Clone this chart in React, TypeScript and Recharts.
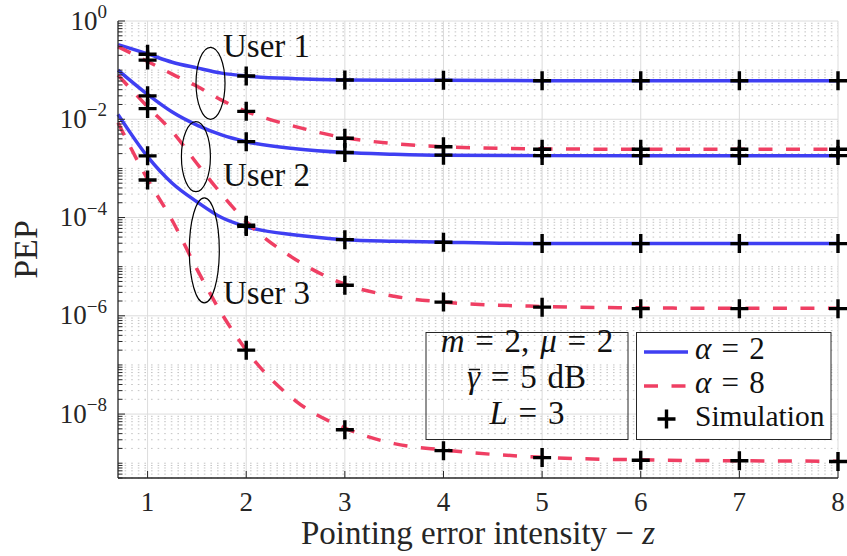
import React from 'react'
import {
  ComposedChart,
  Line,
  Scatter,
  XAxis,
  YAxis,
  CartesianGrid,
  ReferenceDot,
  Label,
} from 'recharts'

// pointing error intensity where the analytical curves are sampled
const zValues = [0.7, 1, 1.25, 1.5, 1.75, 2, 2.5, 3, 3.5, 4, 5, 6, 7, 8]

// analytical PEP, alpha = 2
const user1Alpha2 = [3.3e-1, 2.14e-1, 1.45e-1, 1.11e-1, 8.7e-2, 7.6e-2, 6.7e-2, 6.3e-2, 6.2e-2, 6.2e-2, 6.1e-2, 6.1e-2, 6.1e-2, 6.1e-2]
const user2Alpha2 = [1.0e-1, 3.2e-2, 1.4e-2, 7.6e-3, 4.8e-3, 3.5e-3, 2.5e-3, 2.1e-3, 1.95e-3, 1.86e-3, 1.82e-3, 1.82e-3, 1.82e-3, 1.82e-3]
const user3Alpha2 = [1.26e-2, 1.74e-3, 5.0e-4, 2.1e-4, 1.0e-4, 6.5e-5, 4.4e-5, 3.55e-5, 3.3e-5, 3.15e-5, 2.95e-5, 2.95e-5, 2.95e-5, 2.95e-5]

// analytical PEP, alpha = 8
const user1Alpha8 = [3.0e-1, 1.5e-1, 8.3e-2, 4.7e-2, 2.45e-2, 1.45e-2, 7.1e-3, 4.2e-3, 3.2e-3, 2.75e-3, 2.5e-3, 2.45e-3, 2.45e-3, 2.45e-3]
const user2Alpha8 = [7.9e-2, 1.8e-2, 5.6e-3, 1.26e-3, 3.0e-4, 8.3e-5, 1.4e-5, 4.4e-6, 2.5e-6, 1.9e-6, 1.55e-6, 1.45e-6, 1.42e-6, 1.42e-6]
const user3Alpha8 = [8.5e-3, 6.0e-4, 8.7e-5, 8.9e-6, 1.12e-6, 2.0e-7, 1.86e-8, 5.2e-9, 2.5e-9, 1.86e-9, 1.32e-9, 1.17e-9, 1.12e-9, 1.1e-9]

// Monte Carlo points
const simZ = [1, 2, 3, 4, 5, 6, 7, 8]
const simUser1Alpha2 = [2.1e-1, 7.6e-2, 6.3e-2, 6.2e-2, 6.1e-2, 6.1e-2, 6.1e-2, 6.1e-2]
const simUser1Alpha8 = [1.6e-1, 1.45e-2, 4.1e-3, 2.75e-3, 2.45e-3, 2.45e-3, 2.45e-3, 2.45e-3]
const simUser2Alpha2 = [3.0e-2, 3.5e-3, 2.1e-3, 1.86e-3, 1.82e-3, 1.82e-3, 1.82e-3, 1.82e-3]
const simUser2Alpha8 = [1.65e-2, 7.0e-5, 4.2e-6, 1.9e-6, 1.5e-6, 1.4e-6, 1.4e-6, 1.4e-6]
const simUser3Alpha2 = [1.8e-3, 6.6e-5, 3.55e-5, 3.15e-5, 2.95e-5, 2.95e-5, 2.95e-5, 2.95e-5]
const simUser3Alpha8 = [5.8e-4, 2.0e-7, 4.8e-9, 1.8e-9, 1.3e-9, 1.15e-9, 1.12e-9, 1.08e-9]

const xTicks = [1, 2, 3, 4, 5, 6, 7, 8]
const yMajorTicks = [1, 1e-2, 1e-4, 1e-6, 1e-8]

// user group annotations: ellipse centre (data coords) and label anchor
const userEllipses = [
  { z: 1.638, pep: 5.4e-2, rx: 14.5, ry: 36 },
  { z: 1.49, pep: 1.73e-3, rx: 14.5, ry: 35 },
  { z: 1.575, pep: 2.15e-5, rx: 15, ry: 52.5 },
]
const userLabels = [
  { z: 1.765, pep: 1.81e-1, text: 'User 1' },
  { z: 1.765, pep: 4.35e-4, text: 'User 2' },
  { z: 1.765, pep: 1.76e-6, text: 'User 3' },
]

const BLUE = '#3f3ff2'
const RED = '#ef3f63'
const AXIS = '#262626'
const FONT = "'Liberation Serif', 'DejaVu Serif', serif"
const DASH = '14 13.5'

// all the log-decade minor positions between 5e-10 and 1
const yMinorTicks: number[] = []
for (let e = -10; e <= 0; e++) {
  for (let m = 1; m <= 9; m++) {
    const v = m * Math.pow(10, e)
    if (v < 4.99e-10 || v > 1.0001) continue
    if (m === 1 && yMajorTicks.some((t) => Math.abs(t - v) / t < 1e-6)) continue
    yMinorTicks.push(v)
  }
}
const yAllTicks = [...yMajorTicks, ...yMinorTicks].sort((a, b) => a - b)
const isMajor = (v: number) => yMajorTicks.some((t) => Math.abs(t - v) / t < 1e-6)

const curve = (vals: number[]) => zValues.map((z, i) => ({ z, pep: vals[i] }))
const simPoints = [simUser1Alpha2, simUser1Alpha8, simUser2Alpha2, simUser2Alpha8, simUser3Alpha2, simUser3Alpha8]
  .flatMap((vals) => simZ.map((z, i) => ({ z, pep: vals[i] })))

const txt = (size: number) => ({ fontFamily: FONT, fontSize: size })

const PlusMarker = (props: any) => {
  const { cx, cy } = props
  if (cx == null || cy == null) return null
  return (
    <path
      d={`M${cx - 9},${cy}H${cx + 9}M${cx},${cy - 9.5}V${cy + 9.5}`}
      stroke="#000"
      strokeWidth={3.4}
      fill="none"
    />
  )
}

const BottomTick = ({ x, y, payload }: any) => (
  <g>
    <line x1={x} x2={x} y1={y} y2={y - 7} stroke={AXIS} strokeWidth={1} />
    <text x={x} y={y + 33} textAnchor="middle" style={txt(27)} fill="#262626">
      {payload.value}
    </text>
  </g>
)

const TopTick = ({ x, y }: any) => (
  <line x1={x} x2={x} y1={y} y2={y + 7} stroke={AXIS} strokeWidth={1} />
)

const LeftTick = ({ x, y, payload }: any) => {
  const v = payload.value
  const major = isMajor(v)
  const exp = Math.round(Math.log10(v))
  return (
    <g>
      <line x1={x} x2={x + (major ? 7 : 4.5)} y1={y} y2={y} stroke={AXIS} strokeWidth={1} />
      {major && (
        <text x={x - 11} y={y + 8.5} textAnchor="end" style={txt(27)} fill="#262626">
          <tspan>10</tspan>
          <tspan dy={-11.5} style={txt(19)}>{exp === 0 ? '0' : `\u2212${-exp}`}</tspan>
        </text>
      )}
    </g>
  )
}

const RightTick = ({ x, y, payload }: any) => {
  const major = isMajor(payload.value)
  return <line x1={x} x2={x - (major ? 7 : 4.5)} y1={y} y2={y} stroke={AXIS} strokeWidth={1} />
}

const XTitle = ({ viewBox }: any) => (
  <text
    x={viewBox.x + viewBox.width / 2}
    y={viewBox.y + 66}
    textAnchor="middle"
    style={txt(33)}
    fill="#262626"
  >
    Pointing error intensity {'\u2212'} <tspan fontStyle="italic">z</tspan>
  </text>
)

const YTitle = ({ viewBox }: any) => {
  const cx = viewBox.x + 37
  const cy = viewBox.y + viewBox.height / 2
  return (
    <text
      x={cx}
      y={cy}
      transform={`rotate(-90 ${cx} ${cy})`}
      textAnchor="middle"
      style={txt(34)}
      fill="#262626"
    >
      PEP
    </text>
  )
}

export default function App() {
  return (
    <div style={{ position: 'absolute', left: 0, top: 0, width: 847, height: 556, background: '#fff' }}>
      <ComposedChart width={847} height={556} margin={{ top: 21, right: 9, bottom: 0, left: 0 }}>
        <CartesianGrid
          vertical={false}
          horizontalValues={yMinorTicks}
          stroke="#c4c4c4"
          strokeDasharray="1.6 5"
        />
        <CartesianGrid horizontalValues={yMajorTicks} verticalValues={xTicks} stroke="#dcdcdc" />

        <XAxis
          dataKey="z"
          type="number"
          domain={[0.7, 8]}
          ticks={xTicks}
          height={78}
          tickSize={0}
          tickMargin={0}
          tickLine={false}
          interval={0}
          stroke={AXIS}
          strokeWidth={1.3}
          tick={<BottomTick />}
        >
          <Label content={<XTitle />} />
        </XAxis>
        <XAxis
          xAxisId="top"
          orientation="top"
          dataKey="z"
          type="number"
          domain={[0.7, 8]}
          ticks={xTicks}
          height={0}
          tickSize={0}
          tickMargin={0}
          tickLine={false}
          interval={0}
          stroke={AXIS}
          strokeWidth={1.3}
          tick={<TopTick />}
        />
        <YAxis
          type="number"
          scale="log"
          domain={[5e-10, 1]}
          ticks={yAllTicks}
          width={118}
          tickSize={0}
          tickMargin={0}
          tickLine={false}
          interval={0}
          stroke={AXIS}
          strokeWidth={1.3}
          tick={<LeftTick />}
        >
          <Label content={<YTitle />} />
        </YAxis>
        <YAxis
          yAxisId="right"
          orientation="right"
          type="number"
          scale="log"
          domain={[5e-10, 1]}
          ticks={yAllTicks}
          width={0}
          tickSize={0}
          tickMargin={0}
          tickLine={false}
          interval={0}
          stroke={AXIS}
          strokeWidth={1.3}
          tick={<RightTick />}
        />

        <Line data={curve(user1Alpha2)} dataKey="pep" type="monotone" stroke={BLUE} strokeWidth={3.5} dot={false} isAnimationActive={false} />
        <Line data={curve(user2Alpha2)} dataKey="pep" type="monotone" stroke={BLUE} strokeWidth={3.5} dot={false} isAnimationActive={false} />
        <Line data={curve(user3Alpha2)} dataKey="pep" type="monotone" stroke={BLUE} strokeWidth={3.5} dot={false} isAnimationActive={false} />
        <Line data={curve(user1Alpha8)} dataKey="pep" type="monotone" stroke={RED} strokeWidth={3.5} strokeDasharray={DASH} dot={false} isAnimationActive={false} />
        <Line data={curve(user2Alpha8)} dataKey="pep" type="monotone" stroke={RED} strokeWidth={3.5} strokeDasharray={DASH} dot={false} isAnimationActive={false} />
        <Line data={curve(user3Alpha8)} dataKey="pep" type="monotone" stroke={RED} strokeWidth={3.5} strokeDasharray={DASH} dot={false} isAnimationActive={false} />

        <Scatter data={simPoints} dataKey="pep" shape={<PlusMarker />} isAnimationActive={false} />

        {userEllipses.map((e, i) => (
          <ReferenceDot
            key={`ell-${i}`}
            x={e.z}
            y={e.pep}
            shape={(p: any) => (
              <ellipse cx={p.cx} cy={p.cy} rx={e.rx} ry={e.ry} fill="none" stroke="#000" strokeWidth={1.2} />
            )}
          />
        ))}
        {userLabels.map((l, i) => (
          <ReferenceDot
            key={`lab-${i}`}
            x={l.z}
            y={l.pep}
            shape={(p: any) => (
              <text x={p.cx} y={p.cy} style={txt(33)} fill="#111">
                {l.text}
              </text>
            )}
          />
        ))}
      </ComposedChart>

      <svg width={847} height={556} style={{ position: 'absolute', left: 0, top: 0, pointerEvents: 'none' }}>
        {/* system parameters */}
        <g fill="#111">
          <rect x={426} y={332.5} width={202} height={107} fill="none" stroke={AXIS} strokeWidth={1} />
          <text x={527} y={352} textAnchor="middle" style={{ ...txt(33), wordSpacing: 2.5 }}>
            <tspan fontStyle="italic">m</tspan> = 2, <tspan fontStyle="italic">{'\u03bc'}</tspan> = 2
          </text>
          <text x={467} y={388} style={{ ...txt(33), wordSpacing: 2.5 }}>
            <tspan fontStyle="italic">{'\u03b3'}</tspan> = 5 dB
          </text>
          <line x1={469} x2={480} y1={369.5} y2={369.5} stroke="#111" strokeWidth={1.5} />
          <text x={527} y={424} textAnchor="middle" style={{ ...txt(33), wordSpacing: 2.5 }}>
            <tspan fontStyle="italic">L</tspan> = 3
          </text>
        </g>

        {/* legend */}
        <g fill="#111">
          <rect x={636.5} y={332.5} width={194.5} height={107} fill="#fff" stroke={AXIS} strokeWidth={1} />
          <line x1={644} x2={688} y1={352} y2={352} stroke={BLUE} strokeWidth={3.5} />
          <text x={695} y={359} style={{ ...txt(31), wordSpacing: 2.5 }}>
            <tspan fontStyle="italic">{'\u03b1'}</tspan> = 2
          </text>
          <line x1={644} x2={688} y1={386} y2={386} stroke={RED} strokeWidth={3.5} strokeDasharray={DASH} />
          <text x={695} y={393} style={{ ...txt(31), wordSpacing: 2.5 }}>
            <tspan fontStyle="italic">{'\u03b1'}</tspan> = 8
          </text>
          <PlusMarker cx={666.5} cy={419} />
          <text x={695} y={426} style={txt(29.5)}>Simulation</text>
        </g>
      </svg>
    </div>
  )
}
